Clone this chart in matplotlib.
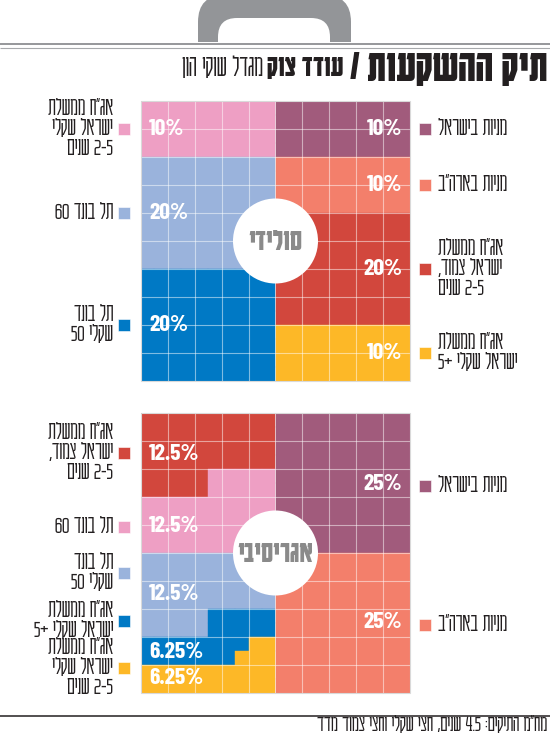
import re
import matplotlib
matplotlib.use("Agg")
import matplotlib.pyplot as plt
from matplotlib.patches import Rectangle, FancyBboxPatch, Ellipse
from matplotlib import transforms

HEB_FONT = ['Karantina', 'DejaVu Sans']
NUM_FONT = ['Barlow Condensed', 'Oswald', 'DejaVu Sans']
plt.rcParams['font.family'] = HEB_FONT

# ---------------- data ----------------
title_bold = "תיק ההשקעות"
title_name = "עודד צוק"
title_org = "מגדל שוקי הון"
footer = "מח״מ התיקים: 4.5 שנים, חצי שקלי וחצי צמוד מדד"

solid_name = "סולידי"
solid_left_labels = [["אג״ח ממשלת", "ישראל שקלי", "2-5 שנים"],
                     ["תל בונד 60"],
                     ["תל בונד", "שקלי 50"]]
solid_left_values = [10, 20, 20]
solid_right_labels = [["מניות בישראל"],
                      ["מניות בארה״ב"],
                      ["אג״ח ממשלת", "ישראל צמוד,", "2-5 שנים"],
                      ["אג״ח ממשלת", "ישראל שקלי +5"]]
solid_right_values = [10, 10, 20, 10]

aggr_name = "אגריסיבי"
aggr_left_labels = [["אג״ח ממשלת", "ישראל צמוד,", "2-5 שנים"],
                    ["תל בונד 60"],
                    ["תל בונד", "שקלי 50"],
                    ["אג״ח ממשלת", "ישראל שקלי +5"],
                    ["אג״ח ממשלת", "ישראל שקלי", "2-5 שנים"]]
aggr_left_values = [12.5, 12.5, 12.5, 6.25, 6.25]
aggr_right_labels = [["מניות בישראל"], ["מניות בארה״ב"]]
aggr_right_values = [25, 25]

# ---------------- style ----------------
PINK, PURPLE, LBLUE, SALMON = "#EE9FC4", "#A15B7C", "#9AB3DC", "#F37F6B"
BLUE, RED, YELLOW = "#0079C5", "#D2473D", "#FDB827"
solid_left_colors = [PINK, LBLUE, BLUE]
solid_right_colors = [PURPLE, SALMON, RED, YELLOW]
aggr_left_colors = [RED, PINK, LBLUE, BLUE, YELLOW]
aggr_right_colors = [PURPLE, SALMON]

# label rows (layout)
solid_left_pct_rows = [1, 4, 8]
solid_right_pct_rows = [1, 3, 6, 9]
solid_left_leg_rows = [1, 4, 8]
solid_right_leg_rows = [1, 3, 6, 9]
aggr_left_pct_rows = [1.45, 4.05, 6.45, 8.55, 9.45]
aggr_right_pct_rows = [2.55, 7.45]
aggr_left_leg_rows = [1.43, 4.07, 5.71, 7.43, 9.1]
aggr_right_leg_rows = [2.6, 7.57]

W, H = 550, 735
GX0, GX1 = 141, 410
TOP_GRID = (101, 381)
BOT_GRID = (413, 693)
GRAY = "#939598"
TXT = "#231f20"
LABEL_FS = 18.5
LABEL_W = 'light'
LINE_PX = 20      # distance between label lines, pixels
BASE_PX = 6       # baseline below the visual centre of a line, pixels
PCT_FS = 17


def visual(s):
    """Simple RTL reordering: reverse Hebrew runs, keep number runs LTR."""
    pat = r'(\d+(?:[.\-]\d+)*)'
    parts = re.split(pat, s)
    out = []
    for p in parts[::-1]:
        if re.fullmatch(pat, p):
            out.append(p)
        else:
            out.append(p[::-1])
    return ''.join(out)


fig = plt.figure(figsize=(W / 100, H / 100), dpi=100)
base = fig.add_axes([0, 0, 1, 1])
base.set_xlim(0, W)
base.set_ylim(H, 0)
base.axis('off')

# handle
clip = Rectangle((0, 0), W, 42, transform=base.transData)
outer = FancyBboxPatch((198, -5), 153, 80, boxstyle="round,pad=0,rounding_size=27",
                       fc=GRAY, ec='none')
inner = FancyBboxPatch((218, 18), 112, 80, boxstyle="round,pad=0,rounding_size=19",
                       fc='white', ec='none')
for p in (outer, inner):
    base.add_patch(p)
    p.set_clip_path(clip)
base.plot([0, W], [44, 44], color="#8d8f92", lw=1.3, solid_capstyle='butt')
base.plot([0, W], [47.5, 47.5], color="#a7a9ac", lw=0.8, solid_capstyle='butt')
base.plot([0, W], [716, 716], color=TXT, lw=1.1, solid_capstyle='butt')

# title (pieces placed right to left)
fig.canvas.draw()
renderer = fig.canvas.get_renderer()
x = 547
pieces = [(title_bold, 'bold', 34, 7), ("/", 'bold', 26, 7),
          (title_name, 'bold', 22, 4), (title_org, 'light', 22, 0)]
for txt, wgt, fs, gap in pieces:
    t = base.text(x, 67, visual(txt), ha='right', va='center', fontsize=fs,
                  fontweight=wgt, color=TXT)
    bb = t.get_window_extent(renderer)
    x -= bb.width + gap

base.text(547, 731, visual(footer), ha='right', va='baseline', fontsize=17.5,
          fontweight=LABEL_W, color=TXT)


def fill_half(ax, values, colors, col0):
    """Fill a 5x10 half grid with quarter-cell units, row by row."""
    units = []
    for c, v in zip(colors, values):
        units += [c] * int(round(v * 4))
    for i, c in enumerate(units):
        row = i // 20
        rem = i % 20
        hc = rem // 2
        q = rem % 2
        ax.bar(col0 + hc * 0.5, 0.5, width=0.5, bottom=row + q * 0.5, align='edge',
               color=c, edgecolor=c, linewidth=0.3, zorder=1)


def legend_text(ax, xcol, row, lines, dx, ha):
    n = len(lines)
    for i, s in enumerate(lines):
        dy = -((i - (n - 1) / 2) * LINE_PX + BASE_PX)
        ax.annotate(visual(s), xy=(xcol, row), xytext=(dx, dy), textcoords='offset pixels',
                    ha=ha, va='baseline', fontsize=LABEL_FS, fontweight=LABEL_W, color=TXT,
                    annotation_clip=False)


def draw_grid(y0, y1, name, lv, lc, ll, lpr, llr, rv, rc, rl, rpr, rlr):
    ax = fig.add_axes([GX0 / W, 1 - y1 / H, (GX1 - GX0) / W, (y1 - y0) / H])
    ax.set_xlim(0, 10)
    ax.set_ylim(10, 0)
    ax.axis('off')
    fill_half(ax, lv, lc, 0)
    fill_half(ax, rv, rc, 5)
    for k in range(1, 10):
        if k != 5:
            ax.plot([k, k], [0, 10], color='white', alpha=0.5, lw=0.8, zorder=2)
        ax.plot([0, 10], [k, k], color='white', alpha=0.5, lw=0.8, zorder=2)
    ax.add_patch(Rectangle((0, 0), 10, 10, fill=False, ec='#d9d9d9', lw=0.8, zorder=3,
                           clip_on=False))
    cw = (GX1 - GX0) / 10
    ch = (y1 - y0) / 10
    r = 42.5
    ax.add_patch(Ellipse((5, 5), 2 * r / cw, 2 * r / ch, fc='white', ec='none', zorder=4))
    ax.text(5, 5, visual(name), ha='center', va='center', fontsize=22, fontweight='bold',
            color='#8a8a8a', zorder=5)
    # percentages
    for v, row in zip(lv, lpr):
        ax.annotate(f"{v:g}%", xy=(0, row), xytext=(8, 0), textcoords='offset pixels',
                    ha='left', va='center', fontsize=PCT_FS, fontweight='bold', color='white',
                    family=NUM_FONT, zorder=5)
    for v, row in zip(rv, rpr):
        ax.annotate(f"{v:g}%", xy=(10, row), xytext=(-8, 0), textcoords='offset pixels',
                    ha='right', va='center', fontsize=PCT_FS, fontweight='bold', color='white',
                    family=NUM_FONT, zorder=5)
    # legends
    tl = transforms.offset_copy(ax.transData, fig=fig, x=-17, y=0, units='dots')
    tr = transforms.offset_copy(ax.transData, fig=fig, x=15.5, y=0, units='dots')
    for c, row, lab in zip(lc, llr, ll):
        ax.plot([0], [row], marker='s', ms=8, color=c, mec='white', mew=0.4,
                transform=tl, clip_on=False)
        legend_text(ax, 0, row, lab, -28, 'right')
    for c, row, lab in zip(rc, rlr, rl):
        ax.plot([10], [row], marker='s', ms=8, color=c, mec='white', mew=0.4,
                transform=tr, clip_on=False)
        legend_text(ax, 10, row, lab, 28, 'left')


draw_grid(*TOP_GRID, solid_name, solid_left_values, solid_left_colors, solid_left_labels,
          solid_left_pct_rows, solid_left_leg_rows, solid_right_values, solid_right_colors,
          solid_right_labels, solid_right_pct_rows, solid_right_leg_rows)
draw_grid(*BOT_GRID, aggr_name, aggr_left_values, aggr_left_colors, aggr_left_labels,
          aggr_left_pct_rows, aggr_left_leg_rows, aggr_right_values, aggr_right_colors,
          aggr_right_labels, aggr_right_pct_rows, aggr_right_leg_rows)

fig.savefig("out.png", dpi=100, facecolor='white')
